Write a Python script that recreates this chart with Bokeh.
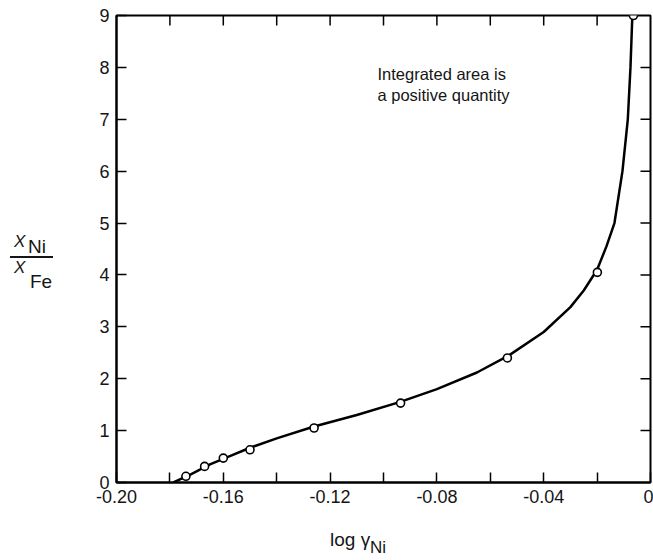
import math
from bokeh.plotting import figure
from bokeh.models import (LinearAxis, FixedTicker, CustomJSTickFormatter, Label, Range1d, Div)
from bokeh.layouts import row, column
from bokeh.embed import file_html
from bokeh.resources import INLINE

# data points (open circles)
pts_x = [-0.174, -0.167, -0.160, -0.150, -0.126, -0.0936, -0.0536, -0.0199, -0.0064]
pts_y = [0.12, 0.31, 0.47, 0.63, 1.05, 1.53, 2.40, 4.05, 9.0]

# smooth curve
curve_x = [-0.1787, -0.172, -0.165, -0.158, -0.150, -0.140, -0.126, -0.110, -0.094,
           -0.080, -0.065, -0.053, -0.040, -0.030, -0.025, -0.020, -0.0165, -0.0135,
           -0.0105, -0.0085, -0.0075, -0.0068]
curve_y = [0.0, 0.16, 0.35, 0.50, 0.67, 0.85, 1.08, 1.30, 1.55,
           1.80, 2.12, 2.45, 2.90, 3.38, 3.70, 4.10, 4.55, 5.0,
           6.0, 7.0, 8.0, 9.0]

x_major = [-0.20, -0.16, -0.12, -0.08, -0.04, 0.0]
x_minor = [-0.18, -0.14, -0.10, -0.06, -0.02]
y_ticks = [0, 1, 2, 3, 4, 5, 6, 7, 8, 9]

FONT = "Liberation Sans"
INK = "#151515"

p = figure(width=593, height=520, output_backend="svg", toolbar_location=None,
           x_range=Range1d(-0.20, 0.0), y_range=Range1d(0, 9),
           x_axis_location=None, y_axis_location=None,
           min_border_left=56, min_border_right=3, min_border_top=15, min_border_bottom=38)
p.margin = 0
p.grid.visible = False
p.background_fill_color = "white"
p.border_fill_color = "white"
p.outline_line_color = "black"
p.outline_line_width = 2

fmt = CustomJSTickFormatter(code="return tick == 0 ? '0' : tick.toFixed(2);")
xb = LinearAxis(ticker=FixedTicker(ticks=x_major, minor_ticks=x_minor), formatter=fmt)
yl = LinearAxis(ticker=FixedTicker(ticks=y_ticks))

for ax in (xb, yl):
    ax.axis_line_width = 2
    ax.axis_line_color = "black"
    ax.major_tick_in = 10
    ax.major_tick_out = 0
    ax.minor_tick_in = 10
    ax.minor_tick_out = 0
    ax.major_tick_line_width = 1.5
    ax.minor_tick_line_width = 1.5
    ax.major_label_text_font = FONT
    ax.major_label_text_font_size = "18px"
    ax.major_label_text_color = INK

yl.minor_tick_in = 0
xb.major_label_standoff = 7
yl.major_label_standoff = 7

p.add_layout(xb, "below")
p.add_layout(yl, "left")

# inward ticks on the top and right frame edges (half of each dash is clipped away)
top_ticks = [t for t in sorted(x_major + x_minor) if -0.20 < t < 0.0]
right_ticks = [t for t in y_ticks if 0 < t < 9]
p.scatter(top_ticks, [9] * len(top_ticks), marker="dash", angle=math.pi / 2, size=20,
          line_color="black", line_width=1.5)
p.scatter([0.0] * len(right_ticks), right_ticks, marker="dash", size=20,
          line_color="black", line_width=1.5)

p.line(curve_x, curve_y, line_color="black", line_width=2.5)
p.scatter(pts_x, pts_y, size=8, marker="circle", fill_color="white",
          line_color="black", line_width=1.6)

# annotation text (screen units relative to the plot frame's bottom-left corner)
p.add_layout(Label(x=261, y=409, x_units="screen", y_units="screen",
                   text="Integrated area is", text_font=FONT, text_font_size="16.5px",
                   text_color=INK, text_baseline="alphabetic"))
p.add_layout(Label(x=261, y=388, x_units="screen", y_units="screen",
                   text="a positive quantity", text_font=FONT, text_font_size="16.5px",
                   text_color=INK, text_baseline="alphabetic"))


def span(txt, left, top, size, italic=False):
    st = "font-style:italic;" if italic else ""
    return (f'<span style="position:absolute;left:{left}px;top:{top}px;'
            f'font-size:{size}px;line-height:1;white-space:nowrap;{st}">{txt}</span>')


# y axis label: X_Ni / X_Fe
ylab_html = (
    f'<div style="position:relative;width:60px;height:520px;font-family:\'{FONT}\';color:{INK};">'
    + span("X", 14, 233, 17, True)
    + span("Ni", 28, 237, 19)
    + f'<div style="position:absolute;left:10px;top:256px;width:43px;height:2px;background:{INK};"></div>'
    + span("X", 14, 259, 17, True)
    + span("Fe", 30, 272, 19)
    + '</div>'
)
ydiv = Div(text=ylab_html, width=60, height=560, margin=0)

# x axis label: log γNi
xlab_html = (
    f'<div style="position:relative;width:593px;height:40px;font-family:\'{FONT}\';color:{INK};">'
    + span("log \u03b3", 270, 10, 19)
    + span("Ni", 310, 19, 17)
    + '</div>'
)
xdiv = Div(text=xlab_html, width=593, height=40, margin=0)

layout = row(ydiv, column(p, xdiv, spacing=0, margin=0), spacing=0, margin=0)

open("out.html", "w").write(file_html(layout, INLINE))
